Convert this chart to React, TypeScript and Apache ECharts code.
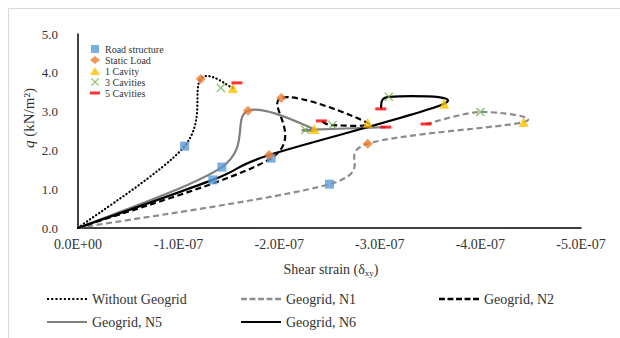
import React, { useEffect, useRef } from "react";
import * as echarts from "echarts";

// Stages marked on each curve (after the origin point)
const stageNames = ["Road structure", "Static Load", "1 Cavity", "3 Cavities", "5 Cavities"];
const stageColors = ["#5B9BD5", "#ED7D31", "#FFC000", "#70AD47", "#FF0000"];

// Each curve: [origin, road structure, static load, 1 cavity, 3 cavities, 5 cavities]
const withoutStrain = [0, -1.06e-7, -1.22e-7, -1.54e-7, -1.42e-7, -1.58e-7];
const withoutQ = [0, 2.11, 3.84, 3.61, 3.61, 3.74];
const n1Strain = [0, -2.5e-7, -2.88e-7, -4.43e-7, -4.0e-7, -3.46e-7];
const n1Q = [0, 1.13, 2.17, 2.73, 2.99, 2.68];
const n2Strain = [0, -1.92e-7, -2.02e-7, -2.88e-7, -2.53e-7, -2.42e-7];
const n2Q = [0, 1.8, 3.35, 2.71, 2.65, 2.76];
const n5Strain = [0, -1.43e-7, -1.69e-7, -2.35e-7, -2.26e-7, -3.06e-7];
const n5Q = [0, 1.57, 3.02, 2.55, 2.53, 2.6];
const n6Strain = [0, -1.34e-7, -1.9e-7, -3.64e-7, -3.09e-7, -3.01e-7];
const n6Q = [0, 1.24, 1.88, 3.2, 3.38, 3.07];

const curveNames = ["Without Geogrid", "Geogrid, N1", "Geogrid, N2", "Geogrid, N5", "Geogrid, N6"];
const curveStrains = [withoutStrain, n1Strain, n2Strain, n5Strain, n6Strain];
const curveQs = [withoutQ, n1Q, n2Q, n5Q, n6Q];
// number of points used by each drawn line
const curveLineLength = [4, 6, 6, 6, 6];

const xTicks = { min: -5e-7, max: 0, interval: 1e-7 };
const yTicks = { min: 0, max: 5, interval: 1 };

const FONT = "'Liberation Serif', Times, serif";
const TXT = "#333333";

const X_PATH =
  "path://M1,0 L5,4 L9,0 L10,1 L6,5 L10,9 L9,10 L5,6 L1,10 L0,9 L4,5 L0,1 Z";
const stageSymbols = ["rect", "diamond", "triangle", X_PATH, "path://M0,0 H10 V3 H0 Z"];
const stageSizes: any[] = [9, 10, 10, 9, [11, 3]];
const stageLegendIcons = [
  "path://M0,0 H8 V8 H0 Z",
  "diamond",
  "triangle",
  X_PATH,
  "path://M0,0 H10 V3 H0 Z",
];

const lineStyles: any[] = [
  { color: "#000000", width: 2.2, dash: [0.3, 3.4], cap: "round" },
  { color: "#8C8C8C", width: 2.2, dash: [6, 3.5], cap: "butt" },
  { color: "#000000", width: 2.2, dash: [6, 3.5], cap: "butt" },
  { color: "#808080", width: 2.2, dash: null, cap: "butt" },
  { color: "#000000", width: 2.2, dash: null, cap: "butt" },
];

function dashIcon(dash: number, gap: number, h: number): string {
  let d = "";
  for (let x = 0; x < 40 - 0.01; x += dash + gap) {
    const w = Math.min(dash, 40 - x);
    d += `M${x},0H${x + w}V${h}H${x}Z`;
  }
  return "path://" + d;
}
const curveLegendIcons = [
  dashIcon(2, 2.05, 2),
  dashIcon(5.6, 2.5, 2.2),
  dashIcon(5.6, 2.5, 2.2),
  dashIcon(40, 0, 2.2),
  dashIcon(40, 0, 2.2),
];

function fmtSci(v: number): string {
  if (Math.abs(v) < 1e-15) return "0.0E+00";
  const [m, e] = v.toExponential(1).split("e");
  const sign = e[0] === "-" ? "-" : "+";
  const digits = e.replace(/[+-]/, "").padStart(2, "0");
  return m + "E" + sign + digits;
}

// Excel-like smoothed curve through pixel points
function smoothPath(pts: number[][]): string {
  let d = `M${pts[0][0]},${pts[0][1]}`;
  for (let i = 0; i < pts.length - 1; i++) {
    const p0 = pts[Math.max(i - 1, 0)];
    const p1 = pts[i];
    const p2 = pts[i + 1];
    const p3 = pts[Math.min(i + 2, pts.length - 1)];
    const c1 = [p1[0] + (p2[0] - p0[0]) / 6, p1[1] + (p2[1] - p0[1]) / 6];
    const c2 = [p2[0] - (p3[0] - p1[0]) / 6, p2[1] - (p3[1] - p1[1]) / 6];
    d += ` C${c1[0]},${c1[1]} ${c2[0]},${c2[1]} ${p2[0]},${p2[1]}`;
  }
  return d;
}

export default function App() {
  const ref = useRef<HTMLDivElement>(null);
  useEffect(() => {
    if (!ref.current) return;
    const chart = echarts.init(ref.current, null, { renderer: "svg" });

    const lineSeries = curveNames.map((name, i) => {
      const pts = curveStrains[i]
        .slice(0, curveLineLength[i])
        .map((s, k) => [s, curveQs[i][k]]);
      const ls = lineStyles[i];
      return {
        name,
        type: "custom",
        z: 2,
        itemStyle: { color: ls.color },
        data: pts,
        encode: { x: 0, y: 1 },
        renderItem: (params: any, api: any) => {
          if (params.dataIndex !== 0) return null;
          const pix = pts.map((p) => api.coord(p));
          return {
            type: "path",
            shape: { pathData: smoothPath(pix) },
            style: {
              fill: "none",
              stroke: ls.color,
              lineWidth: ls.width,
              lineDash: ls.dash,
              lineCap: ls.cap,
            },
          };
        },
      };
    });

    const scatterSeries = stageNames.map((name, j) => ({
      name,
      type: "scatter",
      z: 4,
      symbol: stageSymbols[j],
      symbolSize: stageSizes[j],
      itemStyle: { color: stageColors[j] },
      data: curveStrains.map((arr, i) => [arr[j + 1], curveQs[i][j + 1]]),
    }));

    const bottomLegendPos = [
      [47, 292],
      [241, 292],
      [439, 292],
      [47, 315],
      [241, 315],
    ];

    const legends: any[] = [
      {
        orient: "vertical",
        left: 90,
        top: 43.5,
        padding: 0,
        itemWidth: 10,
        itemHeight: 8,
        itemGap: 0,
        selectedMode: false,
        textStyle: { fontFamily: FONT, fontSize: 10, color: TXT, lineHeight: 11 },
        data: stageNames.map((n, j) => ({ name: n, icon: stageLegendIcons[j] })),
      },
      ...curveNames.map((n, i) => ({
        left: bottomLegendPos[i][0],
        top: bottomLegendPos[i][1],
        padding: 0,
        itemWidth: 40,
        itemHeight: 14,
        selectedMode: false,
        textStyle: { fontFamily: FONT, fontSize: 14, color: TXT },
        data: [{ name: n, icon: curveLegendIcons[i] }],
      })),
    ];

    chart.setOption({
      animation: false,
      grid: { left: 78, right: 39, top: 34, bottom: 110, containLabel: false },
      xAxis: {
        type: "value",
        inverse: true,
        min: xTicks.min,
        max: xTicks.max,
        interval: xTicks.interval,
        splitLine: { show: false },
        axisTick: { show: false },
        axisLine: { lineStyle: { color: "#000", width: 1.5 } },
        axisLabel: {
          fontFamily: FONT,
          fontSize: 14,
          color: TXT,
          margin: 9,
          formatter: (v: number) => fmtSci(v),
        },
      },
      yAxis: {
        type: "value",
        min: yTicks.min,
        max: yTicks.max,
        interval: yTicks.interval,
        splitLine: { show: false },
        axisTick: { show: false },
        axisLine: { show: true, lineStyle: { color: "#000", width: 1.5 } },
        axisLabel: {
          fontFamily: FONT,
          fontSize: 13,
          color: TXT,
          margin: 20,
          formatter: (v: number) => v.toFixed(1),
        },
      },
      legend: legends,
      series: [...lineSeries, ...scatterSeries],
      graphic: [
        {
          type: "rect",
          silent: true,
          shape: { x: 8.5, y: 8.5, width: 700, height: 400 },
          style: { fill: "none", stroke: "#D9D9D9", lineWidth: 1 },
        },
        {
          type: "text",
          x: 29,
          y: 118,
          rotation: Math.PI / 2,
          style: {
            text: "{i|q} (kN/m²)",
            align: "center",
            verticalAlign: "middle",
            fill: TXT,
            rich: {
              i: { fontStyle: "italic", fontFamily: FONT, fontSize: 15, fill: TXT },
              n: { fontFamily: FONT, fontSize: 15, fill: TXT },
            },
            font: `15px ${FONT}`,
          },
        },
        {
          type: "text",
          x: 331,
          y: 269,
          style: {
            text: "{n|Shear strain (δ}{s|xy}{n|)}",
            align: "center",
            verticalAlign: "middle",
            fill: TXT,
            rich: {
              n: { fontFamily: FONT, fontSize: 14, lineHeight: 16, fill: TXT },
              s: { fontFamily: FONT, fontSize: 9, lineHeight: 7, verticalAlign: "bottom", fill: TXT },
            },
          },
        },
      ],
    });
    return () => chart.dispose();
  }, []);
  return (
    <div
      ref={ref}
      style={{ position: "fixed", left: 0, top: 0, width: 620, height: 338, background: "#fff" }}
    />
  );
}
